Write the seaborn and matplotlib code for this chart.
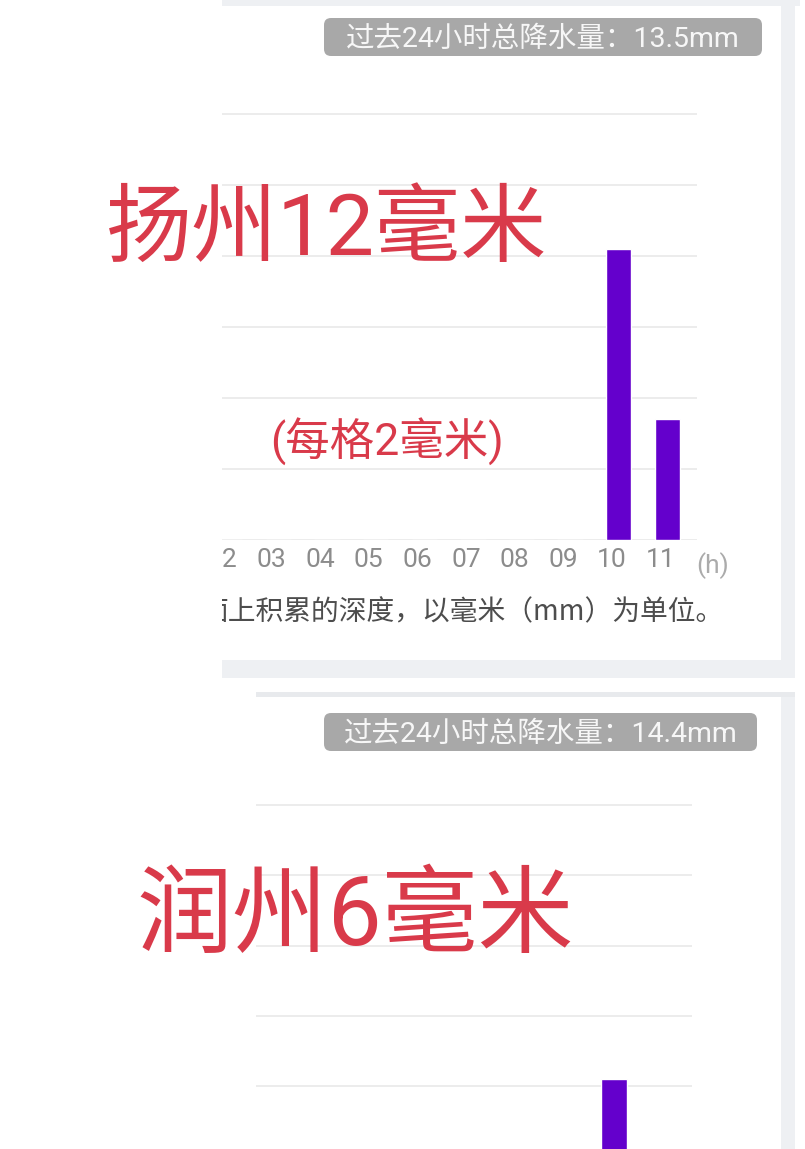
import numpy as np
import pandas as pd
import seaborn as sns
import matplotlib.pyplot as plt
import matplotlib.transforms as mtransforms
from matplotlib.patches import Rectangle, FancyBboxPatch

# hourly rainfall (mm)
hours = ['00', '01', '02', '03', '04', '05', '06', '07', '08', '09', '10', '11']
yangzhou_mm = [0, 0, 0, 0, 0, 0, 0, 0, 0, 0, 8.2, 3.4]
runzhou_mm = [0, 0, 0, 0, 0, 0, 0, 0, 0, 0, 4.2, 0]
grid_ticks = [0, 2, 4, 6, 8, 10, 12]

total_top = '过去24小时总降水量：13.5mm'
total_bottom = '过去24小时总降水量：14.4mm'
label_top = '扬州12毫米'
label_bottom = '润州6毫米'
note = '(每格2毫米)'
caption = '面上积累的深度，以毫米（mm）为单位。'

sns.set_style('white')
plt.rcParams['font.family'] = ['Roboto', 'Noto Sans CJK SC', 'DejaVu Sans']

W, H = 805, 1149
fig = plt.figure(figsize=(W / 100, H / 100), dpi=100)
fig.patch.set_facecolor('white')

PURPLE = '#6400cc'
RED = '#d93a4a'
GRID = '#ebebeb'
STRIP = '#eef0f3'


def fbox(x0, y0, x1, y1):
    return [x0 / W, 1 - y1 / H, (x1 - x0) / W, (y1 - y0) / H]


def rect(x0, y0, x1, y1, color, z=0.2):
    fig.add_artist(Rectangle((x0 / W, 1 - y1 / H), (x1 - x0) / W, (y1 - y0) / H,
                             transform=fig.transFigure, facecolor=color,
                             edgecolor='none', zorder=z))


def pill(x0, y0, x1, y1, text):
    fig.add_artist(FancyBboxPatch((x0 / 100, (H - y1) / 100), (x1 - x0) / 100, (y1 - y0) / 100,
                                  boxstyle='round,pad=0,rounding_size=0.07',
                                  transform=fig.dpi_scale_trans, facecolor='#a8a8a8',
                                  edgecolor='none', zorder=2))
    fig.text((x0 + x1) / 2 / W, 1 - ((y0 + y1) / 2 + 2) / H, text, color='#f7f7f7',
             fontsize=20.5, ha='center', va='center', zorder=3)


def panel(box, values, xlim, ylim, width):
    ax = fig.add_axes(fbox(*box))
    df = pd.DataFrame({'hour': hours, 'mm': values})
    sns.barplot(data=df, x='hour', y='mm', color=PURPLE, saturation=1,
                width=width, errorbar=None, ax=ax, zorder=3)
    ax.set_xlim(*xlim)
    ax.set_ylim(*ylim)
    ax.set_yticks(grid_ticks)
    ax.yaxis.grid(True, color=GRID, lw=1.3)
    ax.set_axisbelow(True)
    ax.set_facecolor('none')
    for s in ax.spines.values():
        s.set_visible(False)
    ax.set_xlabel('')
    ax.set_ylabel('')
    ax.tick_params(axis='y', left=False, labelleft=False)
    ax.tick_params(axis='x', length=0, labelsize=19, labelcolor='#8c8c8c', pad=6)
    return ax


# card frames
rect(222, 0, 800, 6, STRIP)
rect(781, 0, 795, 678, STRIP)
rect(222, 660, 795, 678, STRIP)
rect(256, 692, 795, 697, '#e8eaed')
rect(781, 697, 795, H, STRIP)

# top chart
ax1 = panel((222, 100, 697, 540), yangzhou_mm, (1.84, 11.61), (0, 12.39), 0.52)
offset = mtransforms.ScaledTranslation(-7 / 100, 0, fig.dpi_scale_trans)
for lab in ax1.get_xticklabels():
    lab.set_transform(lab.get_transform() + offset)
fig.text(713 / W, 1 - 566 / H, '(h)', fontsize=19, color='#ababab', ha='center', va='center')
fig.text(200 / W, 1 - 612 / H, caption, fontsize=20, color='#4d4d4d',
         family=['Noto Sans CJK SC'], ha='left', va='center', zorder=0.5)

# bottom chart, its baseline lies below the screenshot
ax2 = panel((256, 790, 692, 1226.5), runzhou_mm, (2.62, 11.61), (0, 12.43), 0.54)
ax2.tick_params(axis='x', labelbottom=False)

# white margin left of the top card hides the clipped labels
rect(0, 0, 222, 690, 'white', z=1)

pill(324, 18, 762, 56, total_top)
pill(324, 713, 757, 751, total_bottom)

fig.text(106 / W, 1 - 231 / H, label_top, fontsize=62, color=RED, ha='left', va='center', zorder=4)
fig.text(136 / W, 1 - 919 / H, label_bottom, fontsize=69, color=RED, ha='left', va='center', zorder=4)
fig.text(270 / W, 1 - 442 / H, note, fontsize=32, color=RED, ha='left', va='center', zorder=4)

fig.savefig('out.png', dpi=100)
